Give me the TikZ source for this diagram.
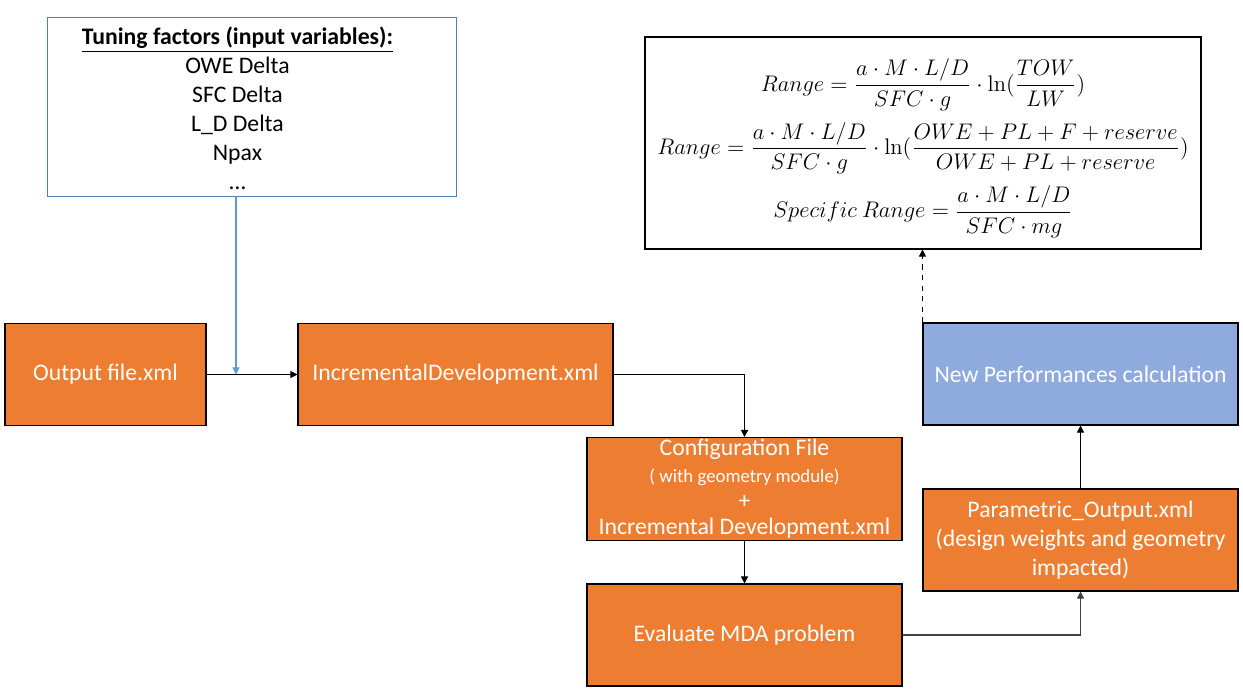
\documentclass[tikz,border=0pt]{standalone}
\usepackage{amsmath}
\usepackage[no-math]{fontspec}
\setmainfont{Carlito}
\usetikzlibrary{arrows.meta,positioning,calc}
\definecolor{boxorange}{HTML}{ED7D31}
\definecolor{boxblue}{HTML}{8FAADC}
\definecolor{inputblue}{HTML}{4A7EBB}
\definecolor{arrowblue}{HTML}{5B9BD5}
\definecolor{linegray}{HTML}{404040}

\begin{document}
\begin{tikzpicture}[
    step box/.style={draw=black, line width=0.6pt, fill=boxorange, text=white, minimum width=6.3cm, minimum height=2.04cm, align=center, font=\fontsize{13.5}{16.5}\selectfont, inner sep=1pt},
    flow/.style={-{Triangle[length=4pt,width=4pt]}, line width=0.6pt},
    every node/.style={inner sep=2pt}
]
\useasboundingbox (0,0) rectangle (24.86,13.86);

\node[draw=inputblue, line width=0.5pt, inner ysep=0pt, minimum width=8.18cm, minimum height=3.58cm, font=\fontsize{13.5}{16.5}\selectfont] (tuning) at (5.03,11.73) {\raisebox{-2.5pt}[\height][\depth]{\begin{tabular}{@{}c@{\hspace{16pt}}}\textbf{\underline{Tuning factors (input variables):}}\\ OWE Delta\\ SFC Delta\\ L\_D Delta\\ Npax\\ \dots\end{tabular}}};

\node[step box, minimum width=4.02cm] (outfile) at (2.11,6.37) {Output file.xml};
\node[step box] (incdev) at (9.11,6.37) {IncrementalDevelopment.xml};
\node[step box, font=\fontsize{13.5}{15}\selectfont] (config) at (14.89,4.08) {Configuration File\\ {\fontsize{10.7}{12}\selectfont( with geometry module)}\\ +\\ Incremental Development.xml};
\node[step box] (evalmda) at (14.89,1.16) {Evaluate MDA problem};
\node[step box] (param) at (21.61,3.06) {Parametric\_Output.xml\\ (design weights and geometry\\ impacted)};
\node[step box, fill=boxblue] (perf) at (21.61,6.38) {New Performances calculation};

\node[draw=black, line width=0.6pt, fill=white, minimum width=11.12cm, minimum height=4.24cm, font=\fontsize{12}{14}\selectfont] (formulas) at (18.46,11.0) {\raisebox{-3pt}[\height][\depth]{\scalebox{1.07}{$\begin{gathered}
Range=\frac{a\cdot M\cdot L/D}{SFC\cdot g}\cdot\ln(\frac{TOW}{LW})\\[2pt]
Range=\frac{a\cdot M\cdot L/D}{SFC\cdot g}\cdot\ln(\frac{OWE+PL+F+reserve}{OWE+PL+reserve})\\[2pt]
Specific\ Range=\frac{a\cdot M\cdot L/D}{SFC\cdot mg}
\end{gathered}$}}};

% connectors
\coordinate (join) at (4.72,6.37);
\draw[flow, arrowblue] (tuning.south -| join) -- (join);
\draw[flow] (outfile) -- (incdev);
\draw[flow] (incdev.east) -| (config.north);
\draw[flow] (config) -- (evalmda);
\draw[flow, linegray] (evalmda.east) -| (param.south);
\draw[flow] (param) -- (perf);
\draw[flow, dashed] (perf.north west) -- (perf.north west |- formulas.south);

\end{tikzpicture}
\end{document}
